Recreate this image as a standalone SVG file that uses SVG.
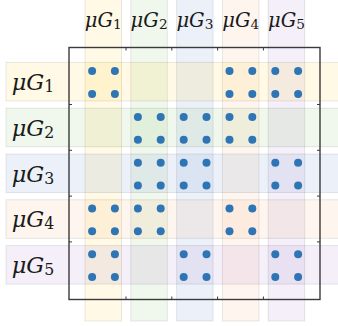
<svg xmlns="http://www.w3.org/2000/svg" width="338" height="326" viewBox="0 0 338 326">
<style>
.lbl{font-family:"DejaVu Serif","Liberation Serif",serif;fill:#1a1a1a;text-anchor:middle}
.it{font-style:italic}
.col{font-size:19.5px}
.row{font-size:22.5px}
.sub{font-size:70%}
.band{stroke:rgba(0,0,0,0.09);stroke-width:1}
.b1{fill:rgba(255,192,0,0.1)}
.b2{fill:rgba(112,173,71,0.1)}
.b3{fill:rgba(68,114,196,0.1)}
.b4{fill:rgba(237,125,49,0.08)}
.b5{fill:rgba(112,48,160,0.08)}
.axis{fill:none;stroke:#3a3a3a;stroke-width:1.4}
.tick{stroke:#3a3a3a;stroke-width:1}
.dot{fill:#2e75b6}
</style>
<defs>
<g id="quad">
<circle class="dot" cx="-11.2" cy="-10.5" r="4"/>
<circle class="dot" cx="11.6" cy="-10.5" r="4"/>
<circle class="dot" cx="-11.2" cy="12.3" r="4"/>
<circle class="dot" cx="11.6" cy="12.3" r="4"/>
</g>
</defs>
<rect x="0" y="0" width="338" height="326" fill="#fff"/>
<g id="bands">
<rect class="band b1" x="85" y="-2" width="36.5" height="323"/>
<rect class="band b2" x="130.8" y="-2" width="36.5" height="323"/>
<rect class="band b3" x="176.6" y="-2" width="36.5" height="323"/>
<rect class="band b4" x="222.4" y="-2" width="36.5" height="323"/>
<rect class="band b5" x="268.2" y="-2" width="36.5" height="323"/>
<rect class="band b1" x="6" y="62.4" width="340" height="38.5"/>
<rect class="band b2" x="6" y="108.2" width="340" height="38.5"/>
<rect class="band b3" x="6" y="154" width="340" height="38.5"/>
<rect class="band b4" x="6" y="199.8" width="340" height="38.5"/>
<rect class="band b5" x="6" y="245.6" width="340" height="38.5"/>
</g>
<g id="axes">
<rect class="axis" x="69" y="47.5" width="251" height="252"/>
<path class="tick" d="M126,47.5v3M171.8,47.5v3M217.6,47.5v3M263.4,47.5v3M126,299.5v-3M171.8,299.5v-3M217.6,299.5v-3M263.4,299.5v-3M69,104.5h3M69,150.3h3M69,196.1h3M69,241.9h3M320,104.5h-3M320,150.3h-3M320,196.1h-3M320,241.9h-3"/>
</g>
<g id="dots">
<use href="#quad" x="103.3" y="81.6"/>
<use href="#quad" x="240.7" y="81.6"/>
<use href="#quad" x="286.5" y="81.6"/>
<use href="#quad" x="149.1" y="127.4"/>
<use href="#quad" x="194.9" y="127.4"/>
<use href="#quad" x="240.7" y="127.4"/>
<use href="#quad" x="149.1" y="173.2"/>
<use href="#quad" x="194.9" y="173.2"/>
<use href="#quad" x="286.5" y="173.2"/>
<use href="#quad" x="103.3" y="219"/>
<use href="#quad" x="149.1" y="219"/>
<use href="#quad" x="240.7" y="219"/>
<use href="#quad" x="103.3" y="264.8"/>
<use href="#quad" x="194.9" y="264.8"/>
<use href="#quad" x="286.5" y="264.8"/>
</g>
<g id="col-labels">
<g id="colG1"><text class="lbl col" x="103.3" y="26.5"><tspan class="it">μG</tspan><tspan class="sub" dy="2">1</tspan></text></g>
<g id="colG2"><text class="lbl col" x="149.1" y="26.5"><tspan class="it">μG</tspan><tspan class="sub" dy="2">2</tspan></text></g>
<g id="colG3"><text class="lbl col" x="194.9" y="26.5"><tspan class="it">μG</tspan><tspan class="sub" dy="2">3</tspan></text></g>
<g id="colG4"><text class="lbl col" x="240.7" y="26.5"><tspan class="it">μG</tspan><tspan class="sub" dy="2">4</tspan></text></g>
<g id="colG5"><text class="lbl col" x="286.5" y="26.5"><tspan class="it">μG</tspan><tspan class="sub" dy="2">5</tspan></text></g>
</g>
<g id="row-labels">
<g id="rowG1"><text class="lbl row" x="33" y="90"><tspan class="it">μG</tspan><tspan class="sub" dy="2">1</tspan></text></g>
<g id="rowG2"><text class="lbl row" x="33" y="135.8"><tspan class="it">μG</tspan><tspan class="sub" dy="2">2</tspan></text></g>
<g id="rowG3"><text class="lbl row" x="33" y="181.6"><tspan class="it">μG</tspan><tspan class="sub" dy="2">3</tspan></text></g>
<g id="rowG4"><text class="lbl row" x="33" y="227.4"><tspan class="it">μG</tspan><tspan class="sub" dy="2">4</tspan></text></g>
<g id="rowG5"><text class="lbl row" x="33" y="273.2"><tspan class="it">μG</tspan><tspan class="sub" dy="2">5</tspan></text></g>
</g>
</svg>
